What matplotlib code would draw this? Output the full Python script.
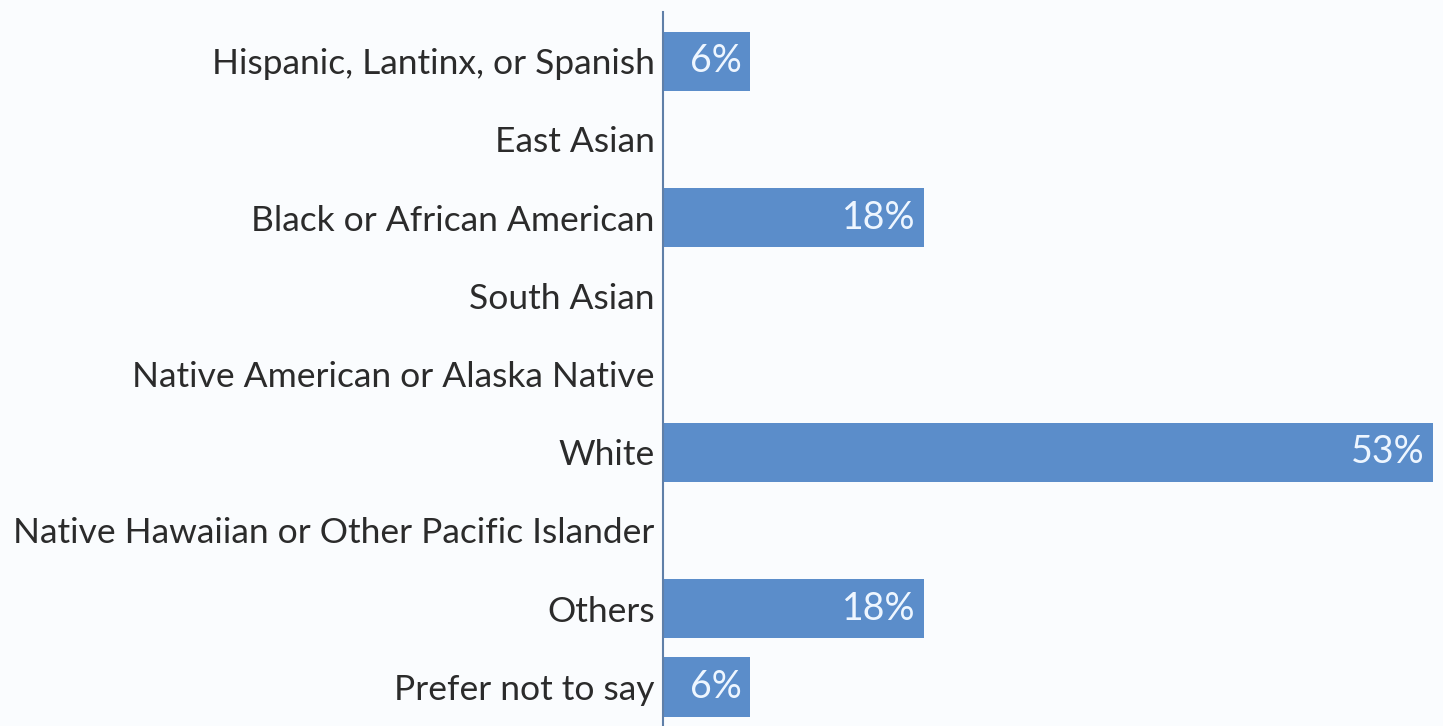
import matplotlib

matplotlib.use('agg')

import matplotlib.pyplot as plt

categories = ['Hispanic, Lantinx, or Spanish', 'East Asian', 'Black or African American',
              'South Asian', 'Native American or Alaska Native', 'White',
              'Native Hawaiian or Other Pacific Islander', 'Others', 'Prefer not to say']
values = [6, 0, 18, 0, 0, 53, 0, 18, 6]

BG = '#fafcfe'
BAR = '#5b8dca'


def main():
    plt.rcParams['font.family'] = ['Lato', 'DejaVu Sans']
    fig = plt.figure(figsize=(14.43, 7.26), dpi=100, facecolor=BG)
    ax = fig.add_axes([663 / 1443, 0, 1 - 663 / 1443, 714 / 726])
    ax.set_facecolor(BG)

    y = range(len(categories))
    ax.barh(y, values, height=0.76, color=BAR)
    for yi, v in zip(y, values):
        if v > 0:
            ax.text(v - 0.6, yi, f'{v}%', ha='right', va='center',
                    color='#eef6ff', fontsize=27)

    ax.set_xlim(0, 53.7)
    ax.set_ylim(8.5, -0.63)
    ax.set_yticks(list(y))
    ax.set_yticklabels(categories, fontsize=25.5, color='#2b2b2b')
    ax.tick_params(axis='y', length=0, pad=6)
    ax.set_xticks([])
    for side in ['top', 'right', 'bottom']:
        ax.spines[side].set_visible(False)
    ax.spines['left'].set_color('#5f7fa8')
    ax.spines['left'].set_linewidth(1.5)

    fig.savefig('out.png', dpi=100, facecolor=BG)


if __name__ == '__main__':
    main()
